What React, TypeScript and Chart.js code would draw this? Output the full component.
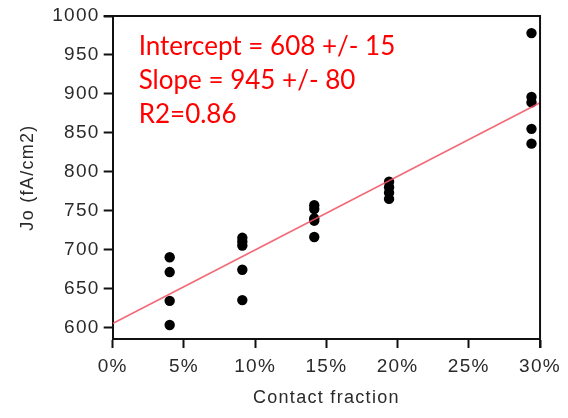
import React, { useEffect, useRef } from "react";
import { Chart, registerables } from "chart.js";

Chart.register(...registerables);

const fraction4 = [0.040, 0.040, 0.040, 0.040];
const jo4 = [690, 671, 634, 603];
const fraction9 = [0.091, 0.091, 0.091, 0.091, 0.091];
const jo9 = [715, 710, 705, 674, 635];
const fraction14 = [0.1415, 0.1415, 0.1415, 0.1415, 0.1415];
const jo14 = [757, 752, 740, 737, 716];
const fraction19 = [0.194, 0.194, 0.194, 0.194];
const jo19 = [787, 780, 773, 765];
const fraction29 = [0.294, 0.294, 0.294, 0.294, 0.294];
const jo29 = [978, 896, 889, 855, 836];

const fitX = [0, 0.3];
const fitIntercept = 605;
const fitSlope = 945;

const xTickValues = [0, 0.05, 0.1, 0.15, 0.2, 0.25, 0.3];
const yTickValues = [600, 650, 700, 750, 800, 850, 900, 950, 1000];

const annotationLines = ["Intercept = 608 +/- 15", "Slope = 945 +/- 80", "R2=0.86"];

const xTitle = "Contact fraction";
const yTitle = "Jo (fA/cm2)";

export default function App() {
  const ref = useRef<HTMLCanvasElement | null>(null);

  useEffect(() => {
    if (!ref.current) return;
    const pts: { x: number; y: number }[] = [];
    const groups: [number[], number[]][] = [
      [fraction4, jo4],
      [fraction9, jo9],
      [fraction14, jo14],
      [fraction19, jo19],
      [fraction29, jo29],
    ];
    groups.forEach(([xs, ys]) => xs.forEach((x, i) => pts.push({ x, y: ys[i] })));
    const fitPts = fitX.map((x) => ({ x, y: fitIntercept + fitSlope * x }));

    const tickFont = { family: "'Liberation Sans', Arial, sans-serif", size: 19 };
    const titleFont = { family: "'Liberation Sans', Arial, sans-serif", size: 18 };

    const spacingPlugin = {
      id: "spacing",
      beforeUpdate(chart: any) {
        chart.ctx.letterSpacing = "1.3px";
      },
      beforeDraw(chart: any) {
        chart.ctx.letterSpacing = "1.3px";
      },
    };

    const framePlugin = {
      id: "frame",
      afterDatasetsDraw(chart: any) {
        const { ctx, chartArea } = chart;
        ctx.save();
        ctx.strokeStyle = "#111";
        ctx.lineWidth = 2;
        ctx.beginPath();
        ctx.moveTo(chartArea.left - 9, chartArea.top);
        ctx.lineTo(chartArea.right, chartArea.top);
        ctx.lineTo(chartArea.right, chartArea.bottom + 9);
        ctx.stroke();
        ctx.restore();
      },
      afterDraw(chart: any) {
        const { ctx, chartArea } = chart;
        ctx.save();
        ctx.letterSpacing = "0px";
        ctx.fillStyle = "#ff0000";
        ctx.font = "26px Lato, 'Open Sans', sans-serif";
        ctx.textAlign = "left";
        ctx.textBaseline = "alphabetic";
        annotationLines.forEach((t, i) => {
          ctx.fillText(t, chartArea.left + 26, chartArea.top + 38.5 + i * 34);
        });
        ctx.restore();
      },
    };

    const chart = new Chart(ref.current, {
      type: "scatter",
      data: {
        datasets: [
          {
            type: "line",
            data: fitPts,
            borderColor: "rgba(240,80,95,0.85)",
            borderWidth: 1.6,
            pointRadius: 0,
            fill: false,
          } as any,
          {
            data: pts,
            backgroundColor: "#000",
            borderColor: "#000",
            pointRadius: 5.2,
            pointBorderWidth: 0,
          },
        ],
      },
      options: {
        animation: false,
        responsive: false,
        maintainAspectRatio: false,
        layout: { padding: { left: 0, right: 26, top: 16, bottom: 0 } },
        plugins: { legend: { display: false }, tooltip: { enabled: false } },
        scales: {
          x: {
            type: "linear",
            min: 0,
            max: 0.3,
            afterBuildTicks: (s: any) => {
              s.ticks = xTickValues.map((v) => ({ value: v }));
            },
            afterFit: (s: any) => {
              s.height = 79;
            },
            border: { display: true, color: "#111", width: 2 },
            grid: {
              drawOnChartArea: false,
              drawTicks: true,
              tickLength: 9,
              tickWidth: 2,
              tickColor: "#111",
            },
            ticks: {
              color: "#2a2a2a",
              font: tickFont,
              padding: 7,
              maxRotation: 0,
              callback: (v: any) => Math.round(Number(v) * 100) + "%",
            },
            title: {
              display: true,
              text: xTitle,
              color: "#2a2a2a",
              font: titleFont,
              padding: { top: 0, bottom: 9 },
            },
          },
          y: {
            type: "linear",
            min: 585,
            max: 1000,
            afterBuildTicks: (s: any) => {
              s.ticks = yTickValues.map((v) => ({ value: v }));
            },
            afterFit: (s: any) => {
              s.width = 112.7;
            },
            border: { display: true, color: "#111", width: 2 },
            grid: {
              drawOnChartArea: false,
              drawTicks: true,
              tickLength: 9,
              tickWidth: 2,
              tickColor: "#111",
            },
            ticks: {
              color: "#2a2a2a",
              font: tickFont,
              padding: 4,
              callback: (v: any) => String(v),
            },
            title: {
              display: true,
              text: yTitle,
              color: "#2a2a2a",
              font: titleFont,
              padding: { top: 17, bottom: 0 },
            },
          },
        },
      },
      plugins: [spacingPlugin, framePlugin],
    });
    return () => chart.destroy();
  }, []);

  return (
    <div style={{ position: "absolute", left: 0, top: 0, width: 568, height: 418, background: "#fff" }}>
      <canvas ref={ref} width={568} height={418} style={{ width: 568, height: 418, display: "block" }} />
    </div>
  );
}
